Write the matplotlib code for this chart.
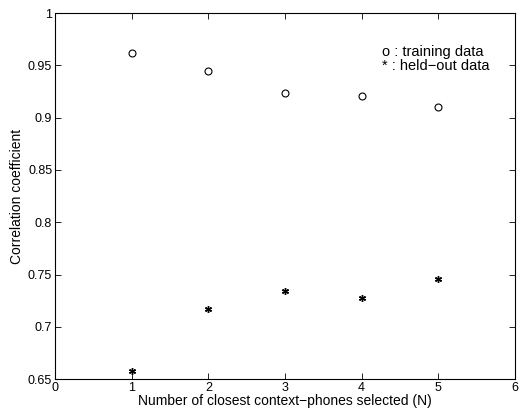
import matplotlib
matplotlib.use('Agg')
import matplotlib.pyplot as plt

plt.rcParams['font.family'] = ['Liberation Sans', 'DejaVu Sans']

n_values = [1, 2, 3, 4, 5]
training = [0.962, 0.945, 0.924, 0.921, 0.910]
heldout = [0.658, 0.717, 0.734, 0.728, 0.746]

xticks = [0, 1, 2, 3, 4, 5, 6]
yticks = [0.65, 0.7, 0.75, 0.8, 0.85, 0.9, 0.95, 1]
ytick_labels = ['0.65', '0.7', '0.75', '0.8', '0.85', '0.9', '0.95', '1']

fig = plt.figure(figsize=(5.27, 4.12), dpi=100)
ax = fig.add_axes([0.1044, 0.080, 0.8727, 0.888])

ax.plot(n_values, training, linestyle='none', marker='o', markersize=5,
        markerfacecolor='none', markeredgecolor='black', markeredgewidth=0.8)
ax.plot(n_values, heldout, linestyle='none', marker=(6, 2, 0), markersize=5,
        color='black', markeredgewidth=1.0)

ax.set_xlim(0, 6)
ax.set_ylim(0.65, 1)
ax.set_xticks(xticks)
ax.set_yticks(yticks)
ax.set_yticklabels(ytick_labels)
ax.tick_params(direction='in', top=True, right=True, labelsize=9,
               length=4, width=0.6, pad=2)
for s in ax.spines.values():
    s.set_linewidth(0.8)

ax.set_xlabel('Number of closest context\u2212phones selected (N)', fontsize=10, labelpad=0)
ax.set_ylabel('Correlation coefficient', fontsize=10, labelpad=3)

ax.text(4.27, 0.963, 'o : training data', fontsize=10.5, va='center')
ax.text(4.27, 0.949, '* : held\u2212out data', fontsize=10.5, va='center')

fig.savefig('out.png', dpi=100, facecolor='white')
